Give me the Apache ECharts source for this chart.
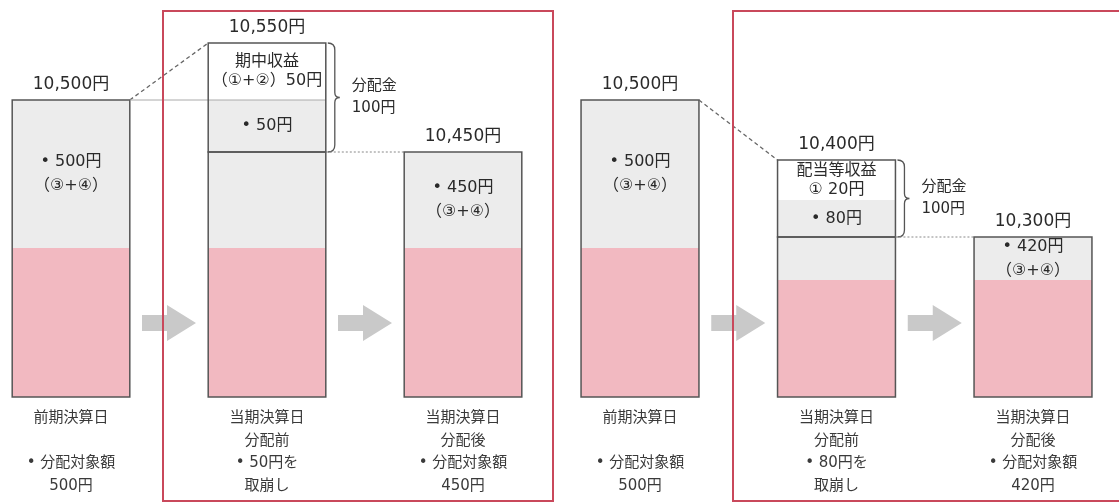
<!DOCTYPE html>
<html>
<head>
<meta charset="utf-8">
<script src="https://cdn.jsdelivr.net/npm/echarts@6/dist/echarts.min.js"></script>
<style>
  html, body { margin: 0; padding: 0; background: #fff; }
  #chart { width: 1119px; height: 504px; }
</style>
</head>
<body>
<div id="chart"></div>
<script>
// schematic heights (the diagram is not to scale)
const categoriesA = ['前期決算日\n\n• 分配対象額\n500円', '当期決算日\n分配前\n• 50円を\n取崩し', '当期決算日\n分配後\n• 分配対象額\n450円'];
const categoriesB = ['前期決算日\n\n• 分配対象額\n500円', '当期決算日\n分配前\n• 80円を\n取崩し', '当期決算日\n分配後\n• 分配対象額\n420円'];

const pinkA = [149, 149, 149];
const grayA = [148, 96, 96];
const drawA = [0, 52, 0];
const incomeA = [0, 57, 0];

const pinkB = [149, 117, 117];
const grayB = [148, 43, 43];
const drawB = [0, 37, 0];
const incomeB = [0, 40, 0];

const navA = ['10,500円', '10,550円', '10,450円'];
const navB = ['10,500円', '10,400円', '10,300円'];

const grayTextA = ['• 500円\n（③+④）', '', '• 450円\n（③+④）'];
const grayTextB = ['• 500円\n（③+④）', '', '• 420円\n（③+④）'];
const drawTextA = ['', '• 50円', ''];
const drawTextB = ['', '• 80円', ''];
const incomeTextA = ['', '期中収益\n（①+②）50円', ''];
const incomeTextB = ['', '配当等収益\n① 20円', ''];

const distLabel = '分配金\n100円';
const arrowLevel = 74;

const FONT = "'DejaVu Sans', 'Noto Sans CJK JP', sans-serif";
const PINK = '#f2b9c1';
const GRAY = '#ececec';
const EDGE = '#555';
const TEXT = '#2a2a2a';

const chart = echarts.init(document.getElementById('chart'));

// outlines, value labels, connectors, brace and arrows for one group
function makeRender(pink, gray, draw, income, nav) {
  return function (params, api) {
    const i = params.dataIndex;
    const half = api.size([1, 0])[0] * 0.3;
    const p0 = api.coord([i, 0]);
    const cx = p0[0], y0 = p0[1];
    const base = pink[i] + gray[i];
    const total = base + draw[i] + income[i];
    const yBase = api.coord([i, base])[1];
    const yTop = api.coord([i, total])[1];
    const L = cx - half, R = cx + half;
    const kids = [];

    kids.push({ type: 'rect', shape: { x: L, y: yBase, width: 2 * half, height: y0 - yBase },
      style: { fill: 'none', stroke: EDGE, lineWidth: 1.5 } });

    if (total > base) {
      kids.push({ type: 'rect', shape: { x: L, y: yTop, width: 2 * half, height: yBase - yTop },
        style: { fill: 'none', stroke: EDGE, lineWidth: 1.5 } });
      const yMid = (yTop + yBase) / 2;
      const bx = R + 2;
      kids.push({ type: 'path',
        shape: { pathData: `M${bx},${yTop} Q${bx + 7},${yTop} ${bx + 7},${yTop + 7} L${bx + 7},${yMid - 5} Q${bx + 7},${yMid} ${bx + 12},${yMid} Q${bx + 7},${yMid} ${bx + 7},${yMid + 5} L${bx + 7},${yBase - 7} Q${bx + 7},${yBase} ${bx},${yBase}` },
        style: { fill: 'none', stroke: EDGE, lineWidth: 1.3 } });
      kids.push({ type: 'text', style: { text: distLabel, x: R + 26, y: yMid, align: 'left', verticalAlign: 'middle',
        fill: TEXT, font: '15px ' + FONT, lineHeight: 22 } });
    }

    kids.push({ type: 'text', style: { text: nav[i], x: cx, y: yTop - 7, align: 'center', verticalAlign: 'bottom',
      fill: TEXT, font: '17px ' + FONT } });

    if (i < pink.length - 1) {
      const j = i + 1;
      const nTop = pink[j] + gray[j] + draw[j] + income[j];
      const nx = api.coord([j, 0])[0];
      const nL = nx - half;
      const ynTop = api.coord([j, nTop])[1];

      const ax = (R + nL) / 2;
      const ay = api.coord([i, arrowLevel])[1];
      kids.push({ type: 'polygon',
        shape: { points: [[ax - 27, ay - 8], [ax - 2, ay - 8], [ax - 2, ay - 18], [ax + 27, ay], [ax - 2, ay + 18], [ax - 2, ay + 8], [ax - 27, ay + 8]] },
        style: { fill: '#c9c9c9' } });

      if (total > base) {
        kids.push({ type: 'line', shape: { x1: R, y1: yBase, x2: nL, y2: ynTop },
          style: { stroke: '#888', lineWidth: 1, lineDash: [2, 2] } });
      } else {
        kids.push({ type: 'line', shape: { x1: R, y1: yTop, x2: nL, y2: ynTop },
          style: { stroke: '#666', lineWidth: 1.3, lineDash: [4, 3] } });
        if (total < nTop) {
          kids.push({ type: 'line', shape: { x1: R, y1: yTop, x2: nL + 2 * half, y2: yTop },
            style: { stroke: '#aaa', lineWidth: 1 } });
        }
      }
    }
    return { type: 'group', children: kids };
  };
}

function segLabel(texts, lineHeight) {
  return { show: true, position: 'inside', color: TEXT, fontSize: 16, fontFamily: FONT, lineHeight: lineHeight,
    formatter: p => texts[p.dataIndex] };
}

function groupSeries(idx, pink, gray, draw, income, nav, grayText, drawText, incomeText) {
  const common = { type: 'bar', stack: 'g' + idx, xAxisIndex: idx, yAxisIndex: idx, barWidth: '60%', clip: false,
    silent: true, emphasis: { disabled: true } };
  return [
    Object.assign({}, common, { data: pink, itemStyle: { color: PINK } }),
    Object.assign({}, common, { data: gray, itemStyle: { color: GRAY }, label: segLabel(grayText, 24) }),
    Object.assign({}, common, { data: draw, itemStyle: { color: GRAY }, label: segLabel(drawText, 20) }),
    Object.assign({}, common, { data: income, itemStyle: { color: '#fff' }, label: segLabel(incomeText, 19) }),
    { type: 'custom', xAxisIndex: idx, yAxisIndex: idx, silent: true, z: 5, clip: false,
      data: pink.map((v, k) => k), renderItem: makeRender(pink, gray, draw, income, nav) }
  ];
}

function xAxis(idx, cats) {
  return { type: 'category', gridIndex: idx, data: cats, boundaryGap: false,
    axisLine: { show: false }, axisTick: { show: false },
    axisLabel: { color: '#3a3a3a', fontSize: 15, fontFamily: FONT, lineHeight: 22.5, margin: 10, interval: 0 } };
}

function yAxis(idx) {
  return { type: 'value', gridIndex: idx, min: 0, max: 354, show: false, splitLine: { show: false } };
}

const option = {
  backgroundColor: '#fff',
  animation: false,
  grid: [
    { left: 71, right: 656, top: 43, bottom: 107 },
    { left: 640, right: 86, top: 43, bottom: 107 }
  ],
  xAxis: [xAxis(0, categoriesA), xAxis(1, categoriesB)],
  yAxis: [yAxis(0), yAxis(1)],
  graphic: [
    { type: 'rect', z: 100, shape: { x: 163, y: 11, width: 390, height: 490 },
      style: { fill: 'none', stroke: '#c9485b', lineWidth: 2 } },
    { type: 'rect', z: 100, shape: { x: 733, y: 11, width: 420, height: 490 },
      style: { fill: 'none', stroke: '#c9485b', lineWidth: 2 } }
  ],
  series: [].concat(
    groupSeries(0, pinkA, grayA, drawA, incomeA, navA, grayTextA, drawTextA, incomeTextA),
    groupSeries(1, pinkB, grayB, drawB, incomeB, navB, grayTextB, drawTextB, incomeTextB)
  )
};

chart.setOption(option);
</script>
</body>
</html>
